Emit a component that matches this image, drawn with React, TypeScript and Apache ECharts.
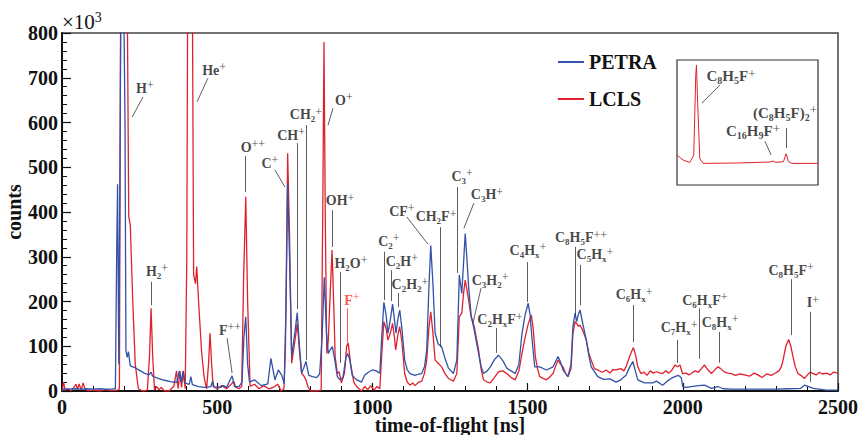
import React, { useEffect, useRef } from 'react';
import * as echarts from 'echarts';

// ---------- data (time-of-flight [ns], counts [x10^3]) ----------
const petra: [number, number][] = [
  [0, 5], [20, 4], [40, 5], [60, 4], [80, 5], [100, 4], [120, 5], [140, 4], [160, 4], [172, 5],
  [176, 300], [179, 462], [183, 60], [190, 900], [197, 1000], [203, 600], [206, 90], [210, 75],
  [214, 88], [220, 56], [235, 52], [250, 46], [265, 40], [280, 36], [287, 42], [292, 33], [310, 28],
  [330, 24], [350, 21], [370, 19], [378, 45], [383, 20], [390, 44], [395, 18], [410, 15], [415, 32],
  [420, 14], [440, 10], [460, 8], [480, 10], [485, 22], [490, 9], [510, 8], [520, 12], [530, 8],
  [548, 34], [556, 10], [570, 10], [580, 20], [586, 120], [592, 166], [598, 60], [604, 20], [620, 25],
  [642, 12], [663, 16], [673, 73], [686, 25], [697, 47], [708, 35], [716, 16], [722, 200], [727, 464],
  [733, 300], [740, 77], [750, 130], [758, 175], [765, 100], [772, 40], [778, 50], [786, 66], [795, 35],
  [807, 32], [820, 30], [830, 38], [838, 120], [845, 254], [852, 130], [858, 84], [864, 92], [871, 99],
  [879, 69], [887, 32], [895, 25], [905, 30], [915, 75], [920, 84], [927, 70], [935, 35], [949, 25],
  [965, 20], [975, 35], [987, 42], [1000, 47], [1012, 45], [1024, 40], [1030, 120], [1037, 198],
  [1044, 170], [1050, 129], [1058, 160], [1065, 194], [1071, 160], [1076, 129], [1082, 160], [1088, 181],
  [1095, 140], [1104, 69], [1112, 48], [1121, 39], [1137, 35], [1150, 38], [1159, 39], [1168, 55],
  [1175, 92], [1182, 230], [1188, 325], [1195, 240], [1202, 129], [1212, 105], [1223, 99], [1233, 75],
  [1245, 51], [1261, 39], [1272, 69], [1280, 259], [1288, 218], [1294, 290], [1299, 352], [1305, 290],
  [1310, 233], [1318, 170], [1328, 136], [1342, 84], [1350, 55], [1358, 39], [1370, 45], [1380, 54],
  [1393, 70], [1406, 80], [1420, 68], [1433, 51], [1447, 45], [1460, 39], [1472, 60], [1482, 129],
  [1492, 170], [1502, 196], [1508, 170], [1515, 110], [1523, 54], [1539, 54], [1561, 47], [1582, 54],
  [1598, 77], [1606, 65], [1614, 47], [1630, 32], [1640, 60], [1646, 144], [1653, 174], [1658, 155],
  [1663, 170], [1669, 181], [1678, 150], [1689, 114], [1697, 80], [1705, 54], [1726, 32], [1745, 26],
  [1765, 27], [1785, 20], [1800, 25], [1817, 35], [1830, 55], [1839, 66], [1847, 45], [1855, 25],
  [1876, 18], [1903, 18], [1915, 22], [1935, 13], [1950, 22], [1967, 30], [1985, 35], [1995, 30],
  [2000, 10], [2010, 8], [2027, 10], [2050, 12], [2070, 13], [2092, 6], [2113, 10], [2130, 5],
  [2156, 4], [2199, 4], [2242, 4], [2300, 4], [2340, 5], [2380, 6], [2392, 13], [2405, 10], [2420, 6],
  [2463, 2], [2500, 2],
];

const lcls: [number, number][] = [
  [0, 0], [5, 20], [10, 2], [20, 5], [30, 0], [45, 15], [50, 3], [55, 16], [62, 2], [68, 18], [75, 3],
  [85, 1], [100, 2], [120, 0], [140, 3], [160, 1], [180, 2], [185, 5], [189, 900], [200, 1300],
  [210, 900], [215, 390], [220, 370], [228, 200], [236, 60], [246, 5], [260, 0], [275, 2], [282, 80],
  [287, 185], [292, 80], [298, 2], [305, 10], [312, 3], [320, 8], [330, 0], [345, 0], [360, 10],
  [369, 45], [374, 5], [380, 44], [385, 8], [391, 45], [397, 5], [402, 300], [405, 900], [412, 1300],
  [420, 900], [424, 260], [430, 240], [434, 278], [440, 200], [450, 85], [458, 30], [466, 5], [472, 60],
  [477, 129], [482, 60], [487, 10], [500, 5], [515, 12], [530, 5], [545, 15], [553, 22], [560, 8],
  [570, 5], [579, 10], [585, 250], [592, 434], [598, 200], [606, 10], [620, 15], [635, 5], [650, 12],
  [666, 5], [680, 8], [695, 15], [706, 0], [715, 5], [720, 100], [727, 531], [733, 350], [740, 62],
  [748, 100], [758, 151], [765, 90], [772, 39], [778, 35], [786, 25], [792, 10], [800, 0], [820, 0],
  [835, 2], [840, 400], [844, 780], [848, 400], [853, 84], [858, 114], [863, 200], [870, 315],
  [876, 180], [880, 77], [887, 39], [893, 43], [900, 18], [910, 40], [917, 100], [922, 107], [930, 60],
  [940, 20], [949, 10], [965, 0], [975, 10], [985, 3], [995, 12], [1005, 2], [1015, 10], [1024, 5],
  [1030, 80], [1037, 155], [1044, 140], [1050, 114], [1058, 130], [1065, 151], [1071, 120], [1075, 92],
  [1082, 125], [1088, 144], [1095, 110], [1104, 39], [1112, 20], [1121, 13], [1130, 18], [1137, 12],
  [1150, 20], [1159, 22], [1168, 40], [1175, 69], [1182, 140], [1188, 177], [1195, 130], [1202, 69],
  [1212, 62], [1223, 54], [1233, 40], [1245, 28], [1261, 22], [1272, 39], [1280, 166], [1288, 174],
  [1294, 220], [1299, 248], [1305, 225], [1310, 203], [1318, 165], [1328, 144], [1342, 92], [1350, 50],
  [1358, 25], [1370, 20], [1380, 18], [1393, 30], [1406, 43], [1420, 45], [1433, 39], [1447, 30],
  [1460, 25], [1472, 45], [1482, 84], [1492, 120], [1502, 150], [1512, 170], [1518, 140], [1525, 77],
  [1532, 50], [1539, 32], [1550, 28], [1561, 25], [1572, 32], [1582, 39], [1590, 55], [1598, 69],
  [1606, 60], [1614, 54], [1622, 40], [1630, 32], [1640, 50], [1646, 129], [1653, 155], [1658, 151],
  [1663, 145], [1669, 147], [1678, 135], [1689, 114], [1697, 85], [1705, 69], [1715, 50], [1726, 47],
  [1740, 42], [1753, 47], [1765, 40], [1775, 48], [1785, 47], [1800, 50], [1810, 45], [1817, 54],
  [1825, 70], [1833, 85], [1841, 97], [1848, 80], [1855, 54], [1865, 39], [1875, 42], [1885, 35],
  [1895, 45], [1905, 40], [1915, 43], [1923, 41], [1935, 39], [1945, 45], [1955, 40], [1965, 47],
  [1975, 58], [1983, 54], [1991, 58], [1999, 39], [2010, 40], [2020, 36], [2027, 39], [2040, 45],
  [2050, 42], [2060, 50], [2070, 58], [2080, 48], [2092, 39], [2100, 45], [2113, 54], [2122, 50],
  [2135, 42], [2145, 40], [2156, 39], [2170, 35], [2185, 38], [2199, 36], [2215, 33], [2230, 40],
  [2242, 36], [2255, 30], [2270, 38], [2285, 35], [2296, 39], [2310, 45], [2318, 55], [2323, 69],
  [2332, 100], [2341, 115], [2348, 100], [2355, 77], [2362, 55], [2371, 39], [2380, 35], [2392, 28],
  [2400, 35], [2410, 42], [2420, 39], [2430, 36], [2440, 42], [2450, 38], [2463, 40], [2475, 36],
  [2485, 42], [2500, 40],
];

// inset (arbitrary units, 0-100 both axes)
const insetLcls: [number, number][] = [
  [0, 24], [4.3, 20], [9, 18], [11.9, 24], [13.3, 88], [13.8, 96], [14.7, 64], [16.2, 21], [18.5, 17.3],
  [42, 17.6], [66, 18.4], [68, 19.2], [70.3, 18.1], [75.5, 18.7], [77.4, 25], [79, 18.7], [81.5, 17.3],
  [100, 17.3],
];

// annotations: label text, label anchor (x,y), arrow start (x1,y1) -> arrow end (x2,y2)
const peakLabels = [
  { t: 'H^+', x: 267, y: 677, x1: 261, y1: 657, x2: 226, y2: 612 },
  { t: 'He^+', x: 490, y: 717, x1: 470, y1: 699, x2: 435, y2: 646 },
  { t: 'O^++', x: 615, y: 545, x1: 590, y1: 525, x2: 590, y2: 445 },
  { t: 'C^+', x: 670, y: 509, x1: 686, y1: 494, x2: 718, y2: 456 },
  { t: 'CH^+', x: 738, y: 572, x1: 757, y1: 554, x2: 757, y2: 183 },
  { t: 'CH_2^+', x: 786, y: 617, x1: 788, y1: 594, x2: 788, y2: 69 },
  { t: 'O^+', x: 908, y: 650, x1: 873, y1: 632, x2: 857, y2: 594 },
  { t: 'OH^+', x: 896, y: 425, x1: 872, y1: 404, x2: 872, y2: 322 },
  { t: 'H_2O^+', x: 931, y: 286, x1: 896, y1: 266, x2: 896, y2: 63 },
  { t: 'F^+', x: 934, y: 203, x1: 919, y1: 185, x2: 919, y2: 107, red: true },
  { t: 'F^++', x: 541, y: 136, x1: 532, y1: 118, x2: 548, y2: 40 },
  { t: 'H_2^+', x: 306, y: 268, x1: 287, y1: 244, x2: 287, y2: 192 },
  { t: 'C_2^+', x: 1053, y: 335, x1: 1037, y1: 311, x2: 1037, y2: 203 },
  { t: 'C_2H^+', x: 1095, y: 290, x1: 1060, y1: 270, x2: 1060, y2: 201 },
  { t: 'C_2H_2^+', x: 1121, y: 237, x1: 1083, y1: 219, x2: 1083, y2: 188 },
  { t: 'CF^+', x: 1095, y: 402, x1: 1111, y1: 389, x2: 1179, y2: 328 },
  { t: 'CH_2F^+', x: 1205, y: 389, x1: 1220, y1: 366, x2: 1220, y2: 98 },
  { t: 'C_3^+', x: 1289, y: 480, x1: 1273, y1: 456, x2: 1273, y2: 264 },
  { t: 'C_3H^+', x: 1369, y: 438, x1: 1327, y1: 420, x2: 1295, y2: 364 },
  { t: 'C_3H_2^+', x: 1379, y: 248, x1: 1350, y1: 230, x2: 1324, y2: 152 },
  { t: 'C_2H_xF^+', x: 1411, y: 159, x1: 1400, y1: 141, x2: 1400, y2: 85 },
  { t: 'C_4H_x^+', x: 1501, y: 315, x1: 1499, y1: 288, x2: 1499, y2: 199 },
  { t: 'C_8H_5F^++', x: 1672, y: 342, x1: 1654, y1: 322, x2: 1654, y2: 170 },
  { t: 'C_5H_x^+', x: 1717, y: 304, x1: 1670, y1: 282, x2: 1670, y2: 192 },
  { t: 'C_6H_x^+', x: 1843, y: 215, x1: 1841, y1: 192, x2: 1841, y2: 109 },
  { t: 'C_7H_x^+', x: 1988, y: 141, x1: 1982, y1: 114, x2: 1982, y2: 63 },
  { t: 'C_6H_xF^+', x: 2071, y: 203, x1: 2053, y1: 185, x2: 2053, y2: 72 },
  { t: 'C_8H_x^+', x: 2120, y: 154, x1: 2118, y1: 132, x2: 2118, y2: 63 },
  { t: 'C_8H_5F^+', x: 2349, y: 270, x1: 2349, y1: 250, x2: 2349, y2: 125 },
  { t: 'I^+', x: 2419, y: 197, x1: 2410, y1: 177, x2: 2410, y2: 20 },
];

const insetLabels = [
  { t: 'C_8H_5F^+', x: 38.3, y: 87, x1: 30.5, y1: 80, x2: 17.7, y2: 65.6 },
  { t: '(C_8H_5F)_2^+', x: 76.6, y: 58, x1: 77.8, y1: 45.6, x2: 77.8, y2: 29.6 },
  { t: 'C_16H_9F^+', x: 53.9, y: 43, x1: 62.4, y1: 35, x2: 66.7, y2: 24 },
];

const seriesNames = ['PETRA', 'LCLS'];
const FONT = "'Liberation Serif', 'Times New Roman', serif";
const BLUE = '#3152a8';
const RED = '#e0212d';

function toRich(s: string): string {
  let out = '';
  let buf = '';
  const flush = () => {
    if (buf) { out += `{n|${buf}}`; buf = ''; }
  };
  let i = 0;
  while (i < s.length) {
    const c = s[i];
    if (c === '_' || c === '^') {
      flush();
      const re = c === '_' ? /[0-9x]/ : /\+/;
      let j = i + 1;
      let t = '';
      while (j < s.length && re.test(s[j])) { t += s[j]; j++; }
      out += `{${c === '_' ? 's' : 'p'}|${t}}`;
      i = j;
    } else {
      buf += c;
      i++;
    }
  }
  flush();
  return out;
}

function richStyles(size: number) {
  return {
    n: { fontSize: size, fontWeight: 'bold', fontFamily: FONT, lineHeight: size + 4 },
    s: { fontSize: Math.round(size * 0.65), fontWeight: 'bold', fontFamily: FONT, lineHeight: Math.round(size * 0.5), verticalAlign: 'bottom' },
    p: { fontSize: Math.round(size * 0.85), fontWeight: 'normal', fontFamily: FONT, lineHeight: Math.round(size * 0.7), verticalAlign: 'top' },
  };
}

type Ann = { t: string; x: number; y: number; x1: number; y1: number; x2: number; y2: number; red?: boolean };

function labelSeries(list: Ann[], axisIndex: number, size: number) {
  return {
    type: 'scatter',
    name: 'labels' + axisIndex,
    xAxisIndex: axisIndex,
    yAxisIndex: axisIndex,
    silent: true,
    z: 5,
    symbol: 'circle',
    symbolSize: 1,
    itemStyle: { color: 'transparent' },
    emphasis: { disabled: true },
    data: list.map((a) => ({
      value: [a.x, a.y],
      label: { color: a.red ? '#ff2a2a' : '#151515' },
    })),
    label: {
      show: true,
      position: 'inside',
      formatter: (p: any) => toRich(list[p.dataIndex].t),
      rich: richStyles(size),
    },
    markLine: {
      silent: true,
      animation: false,
      symbol: ['none', 'triangle'],
      symbolSize: [0, 7],
      label: { show: false },
      itemStyle: { color: '#222' },
      lineStyle: { color: '#333', width: 0.8, type: 'solid', opacity: 1 },
      emphasis: { disabled: true },
      data: list.map((a) => {
        const col = a.red ? '#ff2a2a' : '#333';
        return [
          { coord: [a.x1, a.y1], lineStyle: { color: col, width: 0.8, type: 'solid' }, itemStyle: { color: col } },
          { coord: [a.x2, a.y2], itemStyle: { color: col } },
        ];
      }),
    },
  };
}

export default function App() {
  const ref = useRef<HTMLDivElement>(null);
  useEffect(() => {
    if (!ref.current) return;
    const chart = echarts.init(ref.current, undefined, { renderer: 'svg' });
    const axisText = { fontSize: 20, fontWeight: 'bold', fontFamily: FONT, color: '#111' };
    chart.setOption({
      animation: false,
      backgroundColor: '#fff',
      legend: {
        data: seriesNames,
        orient: 'vertical',
        left: 553,
        top: 47,
        itemWidth: 26,
        itemHeight: 2,
        icon: 'rect',
        itemGap: 17,
        selectedMode: false,
        textStyle: { fontSize: 20, fontWeight: 'bold', fontFamily: FONT, color: '#111' },
      },
      grid: [
        { left: 62, right: 21, top: 33, bottom: 44, show: true, borderColor: '#444', borderWidth: 1.5, backgroundColor: 'transparent', outerBoundsMode: 'none', containLabel: false },
        { left: 677, top: 60, width: 141, height: 125, show: true, borderColor: '#333', borderWidth: 1.2, backgroundColor: '#fff', outerBoundsMode: 'none', containLabel: false },
      ],
      xAxis: [
        {
          type: 'value', gridIndex: 0, min: 0, max: 2500, interval: 500,
          name: 'time-of-flight [ns]', nameLocation: 'middle', nameGap: 26, nameMoveOverlap: false,
          nameTextStyle: { ...axisText, lineHeight: 16 },
          axisLine: { show: true, onZero: false, lineStyle: { color: '#111', width: 2 } },
          axisTick: { show: true, inside: true, length: 8, lineStyle: { color: '#111', width: 1.2 } },
          minorTick: { show: true, splitNumber: 5, length: 5, lineStyle: { color: '#111', width: 1 } },
          axisLabel: { ...axisText, lineHeight: 14, margin: 9, formatter: (v: number) => String(v) },
          splitLine: { show: false },
        },
        { type: 'value', gridIndex: 1, min: 0, max: 100, show: false },
      ],
      yAxis: [
        {
          type: 'value', gridIndex: 0, min: 0, max: 800, interval: 100,
          name: 'counts', nameLocation: 'middle', nameGap: 38, nameRotate: 90, nameMoveOverlap: false, nameTextStyle: axisText,
          axisLine: { show: true, lineStyle: { color: '#111', width: 2 } },
          axisTick: { show: true, inside: true, length: 9, lineStyle: { color: '#111', width: 1.2 } },
          minorTick: { show: true, splitNumber: 5, length: 5, lineStyle: { color: '#111', width: 1 } },
          axisLabel: { ...axisText, margin: 4, formatter: (v: number) => String(v) },
          splitLine: { show: false },
        },
        { type: 'value', gridIndex: 1, min: 0, max: 100, show: false },
      ],
      graphic: [
        {
          type: 'text', left: 62, top: 10, silent: true,
          style: {
            text: '{a|×10}{b|3}',
            rich: {
              a: { fontSize: 21, fontFamily: FONT, fill: '#111', lineHeight: 24 },
              b: { fontSize: 14, fontFamily: FONT, fill: '#111', lineHeight: 12, verticalAlign: 'top' },
            },
          },
        },
      ],
      series: [
        {
          type: 'line', name: 'LCLS', data: lcls, xAxisIndex: 0, yAxisIndex: 0,
          showSymbol: false, symbol: 'none', clip: true,
          lineStyle: { color: RED, width: 1.3 }, itemStyle: { color: RED }, z: 2,
        },
        {
          type: 'line', name: 'PETRA', data: petra, xAxisIndex: 0, yAxisIndex: 0,
          showSymbol: false, symbol: 'none', clip: true,
          lineStyle: { color: BLUE, width: 1.3 }, itemStyle: { color: BLUE }, z: 3,
        },
        {
          type: 'line', name: 'LCLS inset', data: insetLcls, xAxisIndex: 1, yAxisIndex: 1,
          showSymbol: false, symbol: 'none',
          lineStyle: { color: RED, width: 1 }, itemStyle: { color: RED }, z: 3,
        },
        labelSeries(peakLabels as Ann[], 0, 14),
        labelSeries(insetLabels as Ann[], 1, 15),
      ],
    });
    return () => chart.dispose();
  }, []);
  return <div ref={ref} style={{ width: 859, height: 435, position: 'absolute', left: 0, top: 0 }} />;
}
